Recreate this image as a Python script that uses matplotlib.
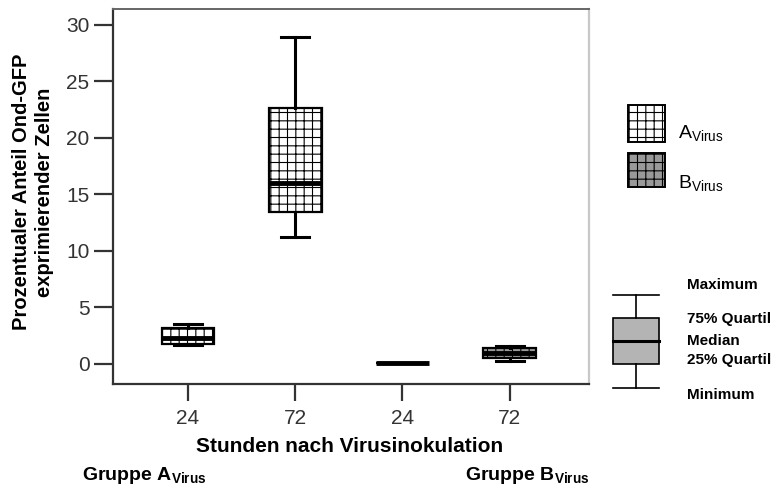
import matplotlib
matplotlib.use("Agg")
import matplotlib.pyplot as plt
from matplotlib.patches import Rectangle
from matplotlib.lines import Line2D

plt.rcParams['font.family'] = ['Liberation Sans', 'DejaVu Sans']
plt.rcParams['mathtext.fontset'] = 'custom'
plt.rcParams['mathtext.rm'] = 'Liberation Sans'
plt.rcParams['mathtext.bf'] = 'Liberation Sans:bold'
plt.rcParams['mathtext.it'] = 'Liberation Sans:italic'
plt.rcParams['hatch.linewidth'] = 0.8

# ---- data ----
tick_labels = ["24", "72", "24", "72"]
groups = ["A", "A", "B", "B"]
wmin = [1.7, 11.2, 0.1, 0.3]
q1 = [1.8, 13.4, 0.1, 0.5]
med = [2.3, 16.0, 0.1, 0.95]
q3 = [3.2, 22.6, 0.1, 1.4]
wmax = [3.5, 28.9, 0.1, 1.6]
y_ticks = [0, 5, 10, 15, 20, 25, 30]

W, H = 782, 488
fig = plt.figure(figsize=(W / 100, H / 100), dpi=100)
ax = fig.add_axes([113 / W, 1 - 384 / H, (589 - 113) / W, (384 - 9) / H])

stats = []
for i in range(4):
    stats.append(dict(whislo=wmin[i], q1=q1[i], med=med[i], q3=q3[i],
                      whishi=wmax[i], fliers=[], label=tick_labels[i]))
positions = [1, 2, 3, 4]
bp = ax.bxp(stats, positions=positions, widths=0.49, patch_artist=True,
            showfliers=False, capwidths=0.26,
            boxprops=dict(linewidth=1.6, edgecolor='black'),
            whiskerprops=dict(linewidth=2.2, color='black'),
            capprops=dict(linewidth=2.2, color='black'),
            medianprops=dict(linewidth=3.5, color='black'))
for box, g in zip(bp['boxes'], groups):
    box.set_facecolor('white' if g == 'A' else '#999999')
    box.set_hatch('++')

ax.set_xlim(0.30, 4.74)
ax.set_ylim(-1.77, 31.4)
ax.set_yticks(y_ticks)
ax.set_xticks(positions)
ax.set_xticklabels(tick_labels)
ax.tick_params(axis='both', direction='out', length=12, width=1.6,
               labelsize=15, labelcolor='#333333', color='#333333')
ax.tick_params(axis='y', length=14, pad=3)
ax.tick_params(axis='x', pad=6)
for s in ['left', 'bottom']:
    ax.spines[s].set_linewidth(1.6)
    ax.spines[s].set_color('#333333')
ax.spines['top'].set_color('#666666')
ax.spines['top'].set_linewidth(1.4)
ax.spines['right'].set_color('#c8c8c8')
ax.spines['right'].set_linewidth(1.6)

# axis labels
fig.text(33 / W, 1 - 192 / H, "Prozentualer Anteil Ond-GFP\nexprimierender Zellen",
         rotation=90, ha='center', va='center', ma='center', fontsize=14.5,
         fontweight='bold', linespacing=1.25)
fig.text(350 / W, 1 - 446 / H, "Stunden nach Virusinokulation", ha='center',
         va='center', fontsize=15, fontweight='bold')
fig.text(82 / W, 1 - 480 / H, r"$\mathbf{Gruppe\ A_{Virus}}$", ha='left',
         va='baseline', fontsize=14)
fig.text(465 / W, 1 - 480 / H, r"$\mathbf{Gruppe\ B_{Virus}}$", ha='left',
         va='baseline', fontsize=14)

# group legend
def fx(x):
    return x / W

def fy(y):
    return 1 - y / H

fig.add_artist(Rectangle((fx(628), fy(142)), 37 / W, 37 / H, facecolor='white',
                         edgecolor='black', hatch='++', linewidth=1.4,
                         transform=fig.transFigure))
fig.add_artist(Rectangle((fx(628), fy(187)), 37 / W, 34 / H, facecolor='#999999',
                         edgecolor='black', hatch='++', linewidth=1.4,
                         transform=fig.transFigure))
fig.text(fx(678), fy(138), r"A$_{\mathrm{Virus}}$", fontsize=14, va='baseline')
fig.text(fx(678), fy(188), r"B$_{\mathrm{Virus}}$", fontsize=14, va='baseline')

# explanatory box diagram
cx = 636
for (y0, y1) in [(295, 318), (364, 388)]:
    fig.add_artist(Line2D([fx(cx), fx(cx)], [fy(y0), fy(y1)], color='black',
                          linewidth=1.2, transform=fig.transFigure))
for y in [295, 388]:
    fig.add_artist(Line2D([fx(613), fx(659)], [fy(y), fy(y)], color='black',
                          linewidth=1.2, transform=fig.transFigure))
fig.add_artist(Rectangle((fx(613), fy(364)), 46 / W, 46 / H, facecolor='#b4b4b4',
                         edgecolor='black', linewidth=1.2,
                         transform=fig.transFigure))
fig.add_artist(Line2D([fx(613), fx(659)], [fy(341), fy(341)], color='black',
                      linewidth=2.2, transform=fig.transFigure))
for txt, y in [("Maximum", 285), ("75% Quartil", 319), ("Median", 341),
               ("25% Quartil", 360), ("Minimum", 395)]:
    fig.text(fx(687), fy(y), txt, fontsize=11, fontweight='bold', va='center')

fig.savefig("out.png", dpi=100)
